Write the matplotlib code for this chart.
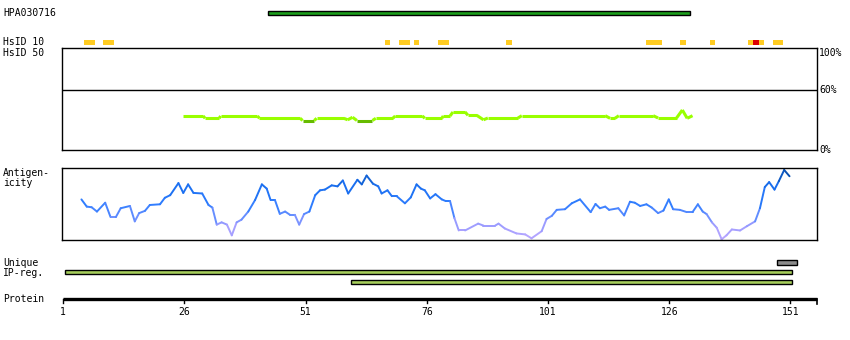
import numpy as np
import matplotlib
matplotlib.use("Agg")
import matplotlib.pyplot as plt
from matplotlib.collections import LineCollection
from matplotlib.colors import LinearSegmentedColormap
from matplotlib.patches import Rectangle

# ---------------- data ----------------
protein_len = 156
tick_residues = [1, 26, 51, 76, 101, 126, 151]

hpa_name = "HPA030716"
hpa_region = (43, 130)

hsid10_blocks = [(6, 7), (10, 11), (68, 68), (71, 72), (74, 74), (79, 80),
                 (93, 93), (122, 124), (129, 129), (135, 135), (143, 145), (148, 149)]
hsid10_red = [(144, 144)]

hsid50_res = [25.8, 29.9, 30.3, 33.2, 33.5, 41.1, 41.5, 49.9, 50.4, 52.8, 53.3, 58.9,
              59.7, 60.7, 61.6, 64.8, 65.5, 69.0, 69.5, 75.1, 75.6, 79.1, 79.4, 80.8,
              81.4, 83.9, 84.5, 86.3, 87.7, 88.6, 94.8, 95.6, 112.8, 113.8, 114.8,
              115.6, 122.7, 123.7, 127.5, 128.7, 129.7, 130.8]
hsid50_val = [34, 34, 31.7, 31.7, 34, 34, 31.7, 31.7, 29.5, 29.5, 31.7, 31.7,
              30.2, 32.7, 29.5, 29.5, 31.7, 31.7, 34, 34, 31.7, 31.7, 34, 34,
              38, 38, 34.7, 34.7, 30.2, 32, 32, 34.3, 34.3, 31.7, 31.7,
              34.3, 34.3, 32, 32, 40, 31.7, 34.3]

antigen_res = [4.8, 5.9, 6.9, 8.0, 9.7, 10.8, 11.9, 12.9, 14.8, 15.8, 16.7, 17.9, 18.9,
               21.0, 22.0, 23.1, 24.8, 25.8, 26.8, 27.9, 29.7, 31.0, 31.8, 32.7, 33.7,
               34.8, 35.8, 36.8, 37.8, 39.2, 40.6, 42.0, 43.0, 43.8, 44.7, 45.7, 46.8,
               47.8, 48.8, 49.7, 50.7, 51.8, 53.0, 54.0, 55.0, 56.4, 57.6, 58.7, 59.8,
               61.7, 62.6, 63.6, 64.9, 66.0, 66.7, 67.9, 68.8, 69.8, 71.5, 72.7, 73.9,
               74.8, 75.6, 76.7, 77.8, 79.1, 79.9, 80.8, 81.7, 82.6, 83.9, 86.6, 87.7,
               90.1, 90.8, 92.1, 94.5, 96.3, 97.6, 99.7, 100.7, 101.8, 102.8, 104.5,
               105.9, 107.6, 109.8, 110.8, 111.7, 112.8, 113.6, 115.5, 116.7, 117.9,
               118.9, 120.0, 121.3, 122.4, 123.7, 124.8, 125.9, 126.8, 128.2, 129.6,
               130.8, 131.9, 132.9, 133.7, 134.8, 135.8, 136.8, 137.8, 138.9, 140.6,
               142.0, 143.7, 144.7, 145.7, 146.6, 147.7, 148.6, 149.7, 150.8]
antigen_val = [56.5, 46.3, 45.4, 39.3, 51.8, 31.5, 31.5, 44.0, 47.2, 25.4, 37.1, 40.3, 48.6,
               49.6, 58.8, 62.5, 79.6, 65.7, 77.8, 65.7, 64.9, 48.6, 44.9, 20.8, 24.0,
               20.8, 5.6, 24.0, 27.8, 39.3, 55.6, 77.8, 71.8, 55.6, 55.6, 36.1, 39.3,
               34.7, 34.7, 20.8, 35.7, 39.3, 62.5, 69.4, 70.4, 76.4, 75.0, 83.3, 64.9,
               84.3, 77.8, 90.3, 78.8, 75.0, 64.9, 69.4, 61.1, 61.1, 51.0, 59.3, 77.8,
               71.8, 69.4, 57.9, 63.9, 56.5, 54.2, 54.2, 30.1, 12.5, 12.5, 22.2, 19.4,
               19.4, 22.2, 15.3, 8.3, 6.9, 1.4, 11.5, 28.8, 33.3, 41.7, 42.6,
               51.0, 56.5, 38.5, 50.0, 44.0, 46.3, 41.7, 44.0, 33.8, 53.2,
               51.8, 47.2, 49.6, 44.9, 37.1, 40.7, 56.5, 42.6, 41.7, 38.5,
               38.5, 49.6, 39.3, 35.7, 24.0, 16.3, 0.0, 5.6, 13.9, 12.5,
               18.5, 25.4, 44.0, 74.0, 81.0, 70.4, 82.4, 98.2, 89.3]

unique_regions = [(148, 152)]
ip_regions = [(1, 151), (60, 151)]

# ---------------- layout ----------------
W, H = 850, 340
fig = plt.figure(figsize=(W / 100, H / 100), dpi=100)
plt.rcParams['font.family'] = ['DejaVu Sans Mono']
FS = 7

def px2res(px):
    return 1 + (px - 63) / 4.85

# full-figure axes for bars and labels (y in layout pixels)
ax0 = fig.add_axes([0, 0, 1, 1])
ax0.set_xlim(px2res(0), px2res(W))
ax0.set_ylim(H, 0)
ax0.axis('off')

# HPA bar
s, e = hpa_region
ax0.add_patch(Rectangle((s + 0.3, 10.5), e - s, 4, facecolor='#1c9e1c',
                        edgecolor='black', linewidth=1.0, zorder=3))

# HsID 10 blocks
for s, e in hsid10_blocks:
    ax0.add_patch(Rectangle((s - 0.7, 40), e - s + 1.2, 4.5, facecolor='#ffcc22',
                            edgecolor='none', zorder=3))
for s, e in hsid10_red:
    ax0.add_patch(Rectangle((s - 0.7, 40), e - s + 1.2, 4.5, facecolor='#dd0000',
                            edgecolor='none', zorder=4))

# Unique / IP-reg bars
for s, e in unique_regions:
    ax0.add_patch(Rectangle((s + 0.3, 260), e - s, 4.5, facecolor='#8c8c8c',
                            edgecolor='black', linewidth=1.0, zorder=3))
for i, (s, e) in enumerate(ip_regions):
    ax0.add_patch(Rectangle((s + 0.4, 270 + 10 * i), e - s, 4.2, facecolor='#a6ce5b',
                            edgecolor='black', linewidth=1.0, zorder=3))

# Protein axis
ax0.plot([1, px2res(817)], [299, 299], color='black', lw=2.4, solid_capstyle='butt', zorder=3)
for t in tick_residues:
    ax0.plot([t, t], [299, 303], color='black', lw=1.0, zorder=3)
    ax0.text(t, 312, str(t), ha='center', va='center', fontsize=FS)
ax0.plot([px2res(817)] * 2, [299, 304], color='black', lw=1.2, zorder=3)

# Left labels
labels = [(hpa_name, 13), ("HsID 10", 42), ("HsID 50", 52.5), ("Antigen-", 173),
          ("icity", 183), ("Unique", 262.5), ("IP-reg.", 272.5), ("Protein", 299)]
for txt, y in labels:
    ax0.text(px2res(3), y, txt, ha='left', va='center', fontsize=FS)

# HsID 50 panel
xl = (px2res(62), px2res(817))
ax1 = fig.add_axes([62 / W, (H - 150) / H, 755 / W, 102 / H])
ax1.set_xlim(*xl)
ax1.set_ylim(0, 102)
ax1.set_xticks([]); ax1.set_yticks([])
for sp in ax1.spines.values():
    sp.set_linewidth(1.0)
ax1.axhline(60, color='black', lw=1.0)
r = np.array(hsid50_res); v = np.array(hsid50_val)
segs = np.stack([np.column_stack([r[:-1], v[:-1]]), np.column_stack([r[1:], v[1:]])], axis=1)
cols = ['#66bb00' if (a < 30 and b < 30) else '#99ff00' for a, b in zip(v[:-1], v[1:])]
ax1.add_collection(LineCollection(segs, colors=cols, linewidths=2.2, capstyle='butt'))
for txt, y in [("100%", 97), ("60%", 60), ("0%", 0)]:
    ax1.text(1.003, y / 102, txt, transform=ax1.transAxes, ha='left',
             va='center', fontsize=FS)

# Antigenicity panel
ax2 = fig.add_axes([62 / W, (H - 240) / H, 755 / W, 72 / H])
ax2.set_xlim(*xl)
ax2.set_ylim(-1, 101)
ax2.set_xticks([]); ax2.set_yticks([])
for sp in ax2.spines.values():
    sp.set_linewidth(1.0)
cmap = LinearSegmentedColormap.from_list('ag', [
    (0.0, '#bba8ff'), (0.2, '#9c9cff'), (0.35, '#5f8cff'), (0.5, '#2f7dff'),
    (0.75, '#1a6ff0'), (0.9, '#0f5cc8'), (1.0, '#004090')])
r = np.array(antigen_res); v = np.array(antigen_val)
segs = np.stack([np.column_stack([r[:-1], v[:-1]]), np.column_stack([r[1:], v[1:]])], axis=1)
mid = (v[:-1] + v[1:]) / 200
ax2.add_collection(LineCollection(segs, colors=cmap(mid), linewidths=1.4, capstyle='round'))

fig.savefig("out.png", dpi=100)
